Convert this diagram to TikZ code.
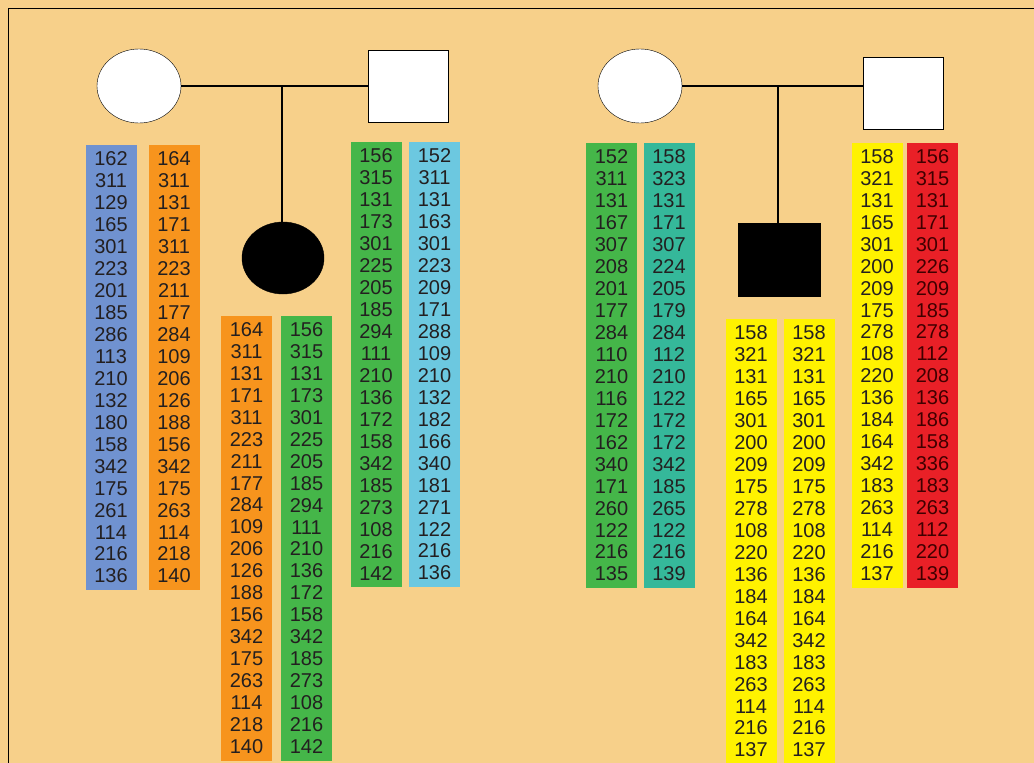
\documentclass[tikz,border=0pt]{standalone}
\usepackage{fontspec}
\setmainfont{Liberation Sans}
\usetikzlibrary{shapes.geometric}
\definecolor{bg}{HTML}{F7D08A}
\definecolor{cblue}{HTML}{7092D0}
\definecolor{corange}{HTML}{F7941D}
\definecolor{cgreen}{HTML}{45B649}
\definecolor{ccyan}{HTML}{6CC8E0}
\definecolor{cteal}{HTML}{35B89A}
\definecolor{cyellow}{HTML}{FFF200}
\definecolor{cred}{HTML}{E92027}
\definecolor{numtext}{HTML}{231F20}
\tikzstyle{col} = [inner sep=0pt, minimum width=51, minimum height=445, align=center, text=numtext,
  font=\fontsize{20}{21.95}\selectfont]
\tikzstyle{fem} = [ellipse, draw, thin, minimum width=84, minimum height=74]
\tikzstyle{mal} = [rectangle, draw, thin, minimum width=80, minimum height=72]
\tikzstyle{edge} = [draw, line width=1.2pt]

\begin{document}
\begin{tikzpicture}[x=1pt, y=-1pt]
    \fill[bg] (0,0) rectangle (1034,763);
    \useasboundingbox (0,0) rectangle (1034,763);
    \draw[line width=0.8pt] (8,763) |- (1034,8);

    % left family
    \node[fem, fill=white] (mom1) at (139,86) {};
    \node[mal, fill=white] (dad1) at (408,86) {};
    \node[fem, fill=black, minimum width=82, minimum height=72] (dau) at (283,258) {};
    \coordinate (m1) at (282,86);
    \path[edge] (mom1) -- (dad1);
    \path[edge] (m1) -- (m1 |- dau.north);

    \node[col, fill=cblue] (momA) at (111,367.5) {162\\311\\129\\165\\301\\223\\201\\185\\286\\113\\210\\132\\180\\158\\342\\175\\261\\114\\216\\136};
    \node[col, fill=corange] (momB) at (174,367.5) {164\\311\\131\\171\\311\\223\\211\\177\\284\\109\\206\\126\\188\\156\\342\\175\\263\\114\\218\\140};
    \node[col, fill=corange] (dauA) at (246.5,538) {164\\311\\131\\171\\311\\223\\211\\177\\284\\109\\206\\126\\188\\156\\342\\175\\263\\114\\218\\140};
    \node[col, fill=cgreen] (dauB) at (306.5,538) {156\\315\\131\\173\\301\\225\\205\\185\\294\\111\\210\\136\\172\\158\\342\\185\\273\\108\\216\\142};
    \node[col, fill=cgreen] (dadA) at (376,364.5) {156\\315\\131\\173\\301\\225\\205\\185\\294\\111\\210\\136\\172\\158\\342\\185\\273\\108\\216\\142};
    \node[col, fill=ccyan] (dadB) at (434.5,364.5) {152\\311\\131\\163\\301\\223\\209\\171\\288\\109\\210\\132\\182\\166\\340\\181\\271\\122\\216\\136};

    % right family
    \node[fem, fill=white] (mom2) at (640,86) {};
    \node[mal, fill=white] (dad2) at (903,93) {};
    \node[mal, fill=black, minimum width=82, minimum height=73] (son) at (779,259.5) {};
    \coordinate (m2) at (778,86);
    \path[edge] (mom2.east) -- (mom2.east -| dad2.west);
    \path[edge] (m2) -- (m2 |- son.north);

    \node[col, fill=cgreen] (mom2A) at (611.5,365.5) {152\\311\\131\\167\\307\\208\\201\\177\\284\\110\\210\\116\\172\\162\\340\\171\\260\\122\\216\\135};
    \node[col, fill=cteal] (mom2B) at (669,365.5) {158\\323\\131\\171\\307\\224\\205\\179\\284\\112\\210\\122\\172\\172\\342\\185\\265\\122\\216\\139};
    \node[col, fill=cyellow] (sonA) at (751,541.5) {158\\321\\131\\165\\301\\200\\209\\175\\278\\108\\220\\136\\184\\164\\342\\183\\263\\114\\216\\137};
    \node[col, fill=cyellow] (sonB) at (809,541.5) {158\\321\\131\\165\\301\\200\\209\\175\\278\\108\\220\\136\\184\\164\\342\\183\\263\\114\\216\\137};
    \node[col, fill=cyellow] (dad2A) at (877,365) {158\\321\\131\\165\\301\\200\\209\\175\\278\\108\\220\\136\\184\\164\\342\\183\\263\\114\\216\\137};
    \node[col, fill=cred, text=black!75!red] (dad2B) at (932.5,365) {156\\315\\131\\171\\301\\226\\209\\185\\278\\112\\208\\136\\186\\158\\336\\183\\263\\112\\220\\139};
\end{tikzpicture}
\end{document}
